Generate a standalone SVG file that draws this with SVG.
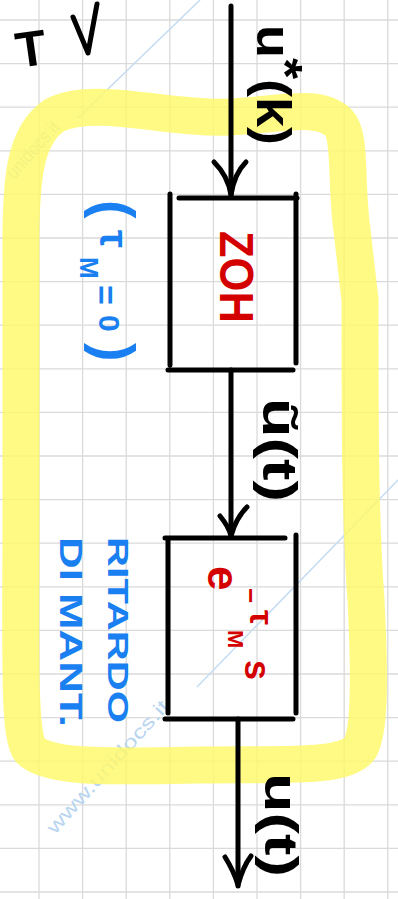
<svg xmlns="http://www.w3.org/2000/svg" width="398" height="899" viewBox="0 0 398 899">
<defs>
<style>
.grid line{stroke:#dadada;stroke-width:1.3}
.ink{stroke:#000;stroke-width:5;fill:none;stroke-linecap:round;stroke-linejoin:round}
.hl{fill:none;stroke:#fff969;stroke-opacity:0.82;stroke-width:37;stroke-linejoin:round;stroke-linecap:round}
.lbl{font-family:"Liberation Sans",Arial,sans-serif;font-weight:bold}
.blk{fill:#000}
.red{fill:#d40000}
.blue{fill:#1a7ff0}
.wm{font-family:"Liberation Sans",Arial,sans-serif;font-size:19px;fill:#b9d5f0}
.wml{stroke:#c4dcf2;stroke-width:1.5}
</style>
</defs>
<rect width="398" height="899" fill="#fff"/>
<g class="grid">
<line x1="39" y1="0" x2="39" y2="899"/><line x1="82.6" y1="0" x2="82.6" y2="899"/><line x1="126.2" y1="0" x2="126.2" y2="899"/><line x1="169.8" y1="0" x2="169.8" y2="899"/><line x1="213.4" y1="0" x2="213.4" y2="899"/><line x1="257" y1="0" x2="257" y2="899"/><line x1="300.6" y1="0" x2="300.6" y2="899"/><line x1="344.2" y1="0" x2="344.2" y2="899"/><line x1="387.8" y1="0" x2="387.8" y2="899"/>
<line x1="0" y1="20" x2="398" y2="20"/><line x1="0" y1="63.6" x2="398" y2="63.6"/><line x1="0" y1="107.2" x2="398" y2="107.2"/><line x1="0" y1="150.8" x2="398" y2="150.8"/><line x1="0" y1="194.4" x2="398" y2="194.4"/><line x1="0" y1="238" x2="398" y2="238"/><line x1="0" y1="281.6" x2="398" y2="281.6"/><line x1="0" y1="325.2" x2="398" y2="325.2"/><line x1="0" y1="368.8" x2="398" y2="368.8"/><line x1="0" y1="412.4" x2="398" y2="412.4"/><line x1="0" y1="456" x2="398" y2="456"/><line x1="0" y1="499.6" x2="398" y2="499.6"/><line x1="0" y1="543.2" x2="398" y2="543.2"/><line x1="0" y1="586.8" x2="398" y2="586.8"/><line x1="0" y1="630.4" x2="398" y2="630.4"/><line x1="0" y1="674" x2="398" y2="674"/><line x1="0" y1="717.6" x2="398" y2="717.6"/><line x1="0" y1="761.2" x2="398" y2="761.2"/><line x1="0" y1="804.8" x2="398" y2="804.8"/><line x1="0" y1="848.4" x2="398" y2="848.4"/><line x1="0" y1="892" x2="398" y2="892"/>
</g>
<g id="watermark">
<text class="wm" transform="translate(14,180) rotate(-48)" textLength="70" lengthAdjust="spacingAndGlyphs">unidocs.it</text>
<line class="wml" x1="78" y1="118" x2="200" y2="0"/>
<text class="wm" transform="translate(55,835) rotate(-48)" textLength="172" lengthAdjust="spacingAndGlyphs">www.unidocs.it</text>
<line class="wml" x1="197" y1="687" x2="398" y2="480"/>
</g>
<path id="highlight" class="hl" d="M21,260 C20,180 24,135 55,115 C95,95 170,120 230,117 C285,114 318,104 338,122 C352,136 345,180 352,230 L360,300 C360,420 360,520 366,600 C370,680 370,730 360,748 C345,768 290,764 200,765 C120,766 50,770 30,750 C18,735 21,650 21,500 Z"/>
<g id="connectors">
<path class="ink" d="M231,6 L231,196"/>
<path class="ink" d="M214,162 C222,170 229,182 231,195 C233,182 238,170 246,162"/>
<path class="ink" d="M231,370 L231,537"/>
<path class="ink" d="M220,516 C225,522 229,528 231,536 C234,525 240,514 247,507"/>
<path class="ink" d="M238,719 L238,886"/>
<path class="ink" d="M225,857 C230,865 235,875 238,885 C241,874 245,864 251,856"/>
<path class="ink" d="M73,17 L88,53 L97,4"/>
</g>
<g id="zoh">
<path class="ink" d="M170,194 L170,365 M296,194 L296,363 M179,198 L297,198 M168,370 L293,370"/>
<text class="lbl red" font-size="48" transform="translate(220,231) rotate(90)" textLength="92" lengthAdjust="spacingAndGlyphs">ZOH</text>
</g>
<g id="delay">
<path class="ink" d="M168,538 L168,713 M296,535 L296,713 M165,538 L285,538 M165,719 L293,719"/>
<text class="lbl red" transform="translate(208,566) rotate(90)"><tspan x="0" y="0" font-size="44">e</tspan><tspan x="22" y="-34" font-size="26">−</tspan><tspan x="44" y="-42" font-size="34">τ</tspan><tspan x="64" y="-20" font-size="22">M</tspan><tspan x="94" y="-37" font-size="36">s</tspan></text>
</g>
<g id="labels">
<text class="lbl blk" font-size="50" x="31" y="66" text-anchor="middle" transform="rotate(-8 31 48)">T</text>
<text class="lbl blk" font-size="48" transform="translate(257,25) rotate(90)" textLength="120" lengthAdjust="spacingAndGlyphs">u<tspan dy="-12">*</tspan><tspan dy="12">(k)</tspan></text>
<text class="lbl blk" font-size="48" transform="translate(263,398) rotate(90)" textLength="104" lengthAdjust="spacingAndGlyphs">ũ(t)</text>
<text class="lbl blk" font-size="46" transform="translate(265,773) rotate(90)" textLength="104" lengthAdjust="spacingAndGlyphs">u(t)</text>
<text class="lbl blue" transform="translate(96,200) rotate(90)"><tspan x="0" y="0" font-size="56">(</tspan><tspan x="30" y="-4" font-size="40">τ</tspan><tspan x="57" y="16" font-size="26">M</tspan><tspan x="85" y="2" font-size="34">=</tspan><tspan x="115" y="-3" font-size="30">0</tspan><tspan x="143" y="0" font-size="56">)</tspan></text>
<text class="lbl blue" font-size="30" transform="translate(108,537) rotate(90)" textLength="186" lengthAdjust="spacingAndGlyphs">RITARDO</text>
<text class="lbl blue" font-size="32" transform="translate(60,537) rotate(90)" textLength="190" lengthAdjust="spacingAndGlyphs">DI MANT.</text>
</g>
</svg>
